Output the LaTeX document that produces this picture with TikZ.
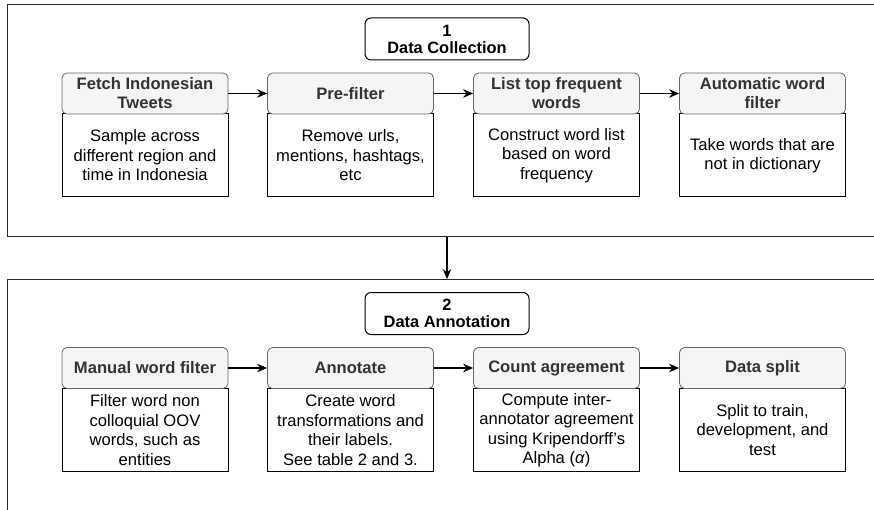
\documentclass[tikz,border=0pt]{standalone}
\usepackage{fontspec}
\setmainfont{Liberation Sans}
\usetikzlibrary{arrows.meta}
\definecolor{hdrfill}{HTML}{F5F5F5}
\definecolor{hdrline}{HTML}{666666}
\definecolor{hdrtext}{HTML}{333333}
\definecolor{frameline}{HTML}{2B2B2B}
\begin{document}
\begin{tikzpicture}[x=1pt,y=-1pt,
  bodytext/.style={font=\fontsize{16.6}{19.5}\selectfont, align=center},
  stagehead/.style={font=\fontsize{16.6}{19}\selectfont\bfseries, align=center,
    draw=hdrline, fill=hdrfill, text=hdrtext, rounded corners=5pt,
    minimum width=166pt, minimum height=41pt, inner sep=0pt, line width=0.8pt},
  stagebody/.style={bodytext, draw=black, fill=white,
    minimum width=166pt, minimum height=83pt, inner sep=0pt, line width=1pt},
  phase/.style={font=\fontsize{16.4}{17}\selectfont\bfseries, align=center,
    draw=black, fill=white, rounded corners=6pt,
    minimum width=164pt, minimum height=42pt, inner sep=0pt, line width=1pt},
  flow/.style={-{Stealth[length=10pt,width=8.5pt]}, line width=1.1pt},
  frame/.style={draw=frameline, line width=1pt}
]
\useasboundingbox (0,0) rectangle (874,510);

% phase frames (open to the right and below)
\coordinate (f1tr) at (874,5);
\coordinate (f1tl) at (7,5);
\coordinate (f1bl) at (7,237);
\coordinate (f1br) at (874,237);
\coordinate (f2tr) at (874,279);
\coordinate (f2tl) at (7,279);
\coordinate (f2bl) at (7,510);
\draw[frame] (f1tr) -- (f1tl) -- (f1bl) -- (f1br);
\draw[frame] (f2tr) -- (f2tl) -- (f2bl);

% hand-over between the two phases
\coordinate (down1) at (447,237);
\coordinate (down2) at (447,279);
\draw[flow] (down1) -- (down2);

% phase titles
\node[phase] (p1) at (447,39) {1\\Data Collection};
\node[phase] (p2) at (447,313.5) {2\\Data Annotation};

% phase 1: data collection
\node[stagebody] (b11) at (145,155.5) {Sample across\\different region and\\time in Indonesia};
\node[stagehead] (h11) at (145,93.5) {Fetch Indonesian\\Tweets};
\node[stagebody] (b12) at (350.5,155.5) {Remove urls,\\mentions, hashtags,\\etc};
\node[stagehead] (h12) at (350.5,93.5) {Pre-filter};
\node[stagebody] (b13) at (556.5,155.5) {Construct word list\\based on word\\frequency};
\node[stagehead] (h13) at (556.5,93.5) {List top frequent\\words};
\node[stagebody] (b14) at (762.5,155.5) {Take words that are\\not in dictionary};
\node[stagehead] (h14) at (762.5,93.5) {Automatic word\\filter};

\draw[flow] (h11) -- (h12);
\draw[flow] (h12) -- (h13);
\draw[flow] (h13) -- (h14);

% phase 2: data annotation
\node[stagebody] (b21) at (145,430) {Filter word non\\colloquial OOV\\words, such as\\entities};
\node[stagehead] (h21) at (145,368) {Manual word filter};
\node[stagebody] (b22) at (350.5,430) {Create word\\transformations and\\their labels.\\See table 2 and 3.};
\node[stagehead] (h22) at (350.5,368) {Annotate};
\node[stagebody] (b23) at (556.5,430) {Compute inter-\\annotator agreement\\using Kripendorff’s\\Alpha (\textit{α})};
\node[stagehead] (h23) at (556.5,368) {Count agreement};
\node[stagebody] (b24) at (762.5,430) {Split to train,\\development, and\\test};
\node[stagehead] (h24) at (762.5,368) {Data split};

\draw[flow] (h21) -- (h22);
\draw[flow] (h22) -- (h23);
\draw[flow] (h23) -- (h24);
\end{tikzpicture}
\end{document}
